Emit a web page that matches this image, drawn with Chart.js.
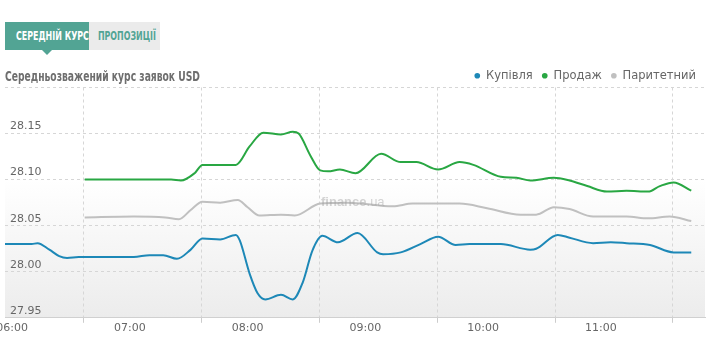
<!DOCTYPE html>
<html><head><meta charset="utf-8">
<script src="https://cdn.jsdelivr.net/npm/chart.js@4.4.1/dist/chart.umd.min.js"></script>
<style>
html,body{margin:0;padding:0;background:#fff;width:720px;height:358px;overflow:hidden;}
#wrap{position:relative;width:720px;height:358px;}
#c{position:absolute;left:0;top:0;}
.tab{position:absolute;top:22px;height:28px;line-height:28px;font-family:"DejaVu Sans Condensed","DejaVu Sans",sans-serif;font-weight:bold;font-size:11.5px;text-align:center;white-space:nowrap;overflow:visible;}
.tab span,#title span{display:inline-block;white-space:nowrap;}
.tab span{transform-origin:center center;}
#title span{transform-origin:left center;}
#t1{left:5px;width:84px;background:#52a494;color:#fff;}
#t2{left:89px;width:71px;background:#ebebeb;color:#52a494;}
#arrow{position:absolute;left:42px;top:50px;width:0;height:0;border-left:5px solid transparent;border-right:5px solid transparent;border-top:5px solid #52a494;}
#title{position:absolute;left:5px;top:67px;font-family:"DejaVu Sans Condensed","DejaVu Sans",sans-serif;font-weight:bold;font-size:13.5px;line-height:18px;color:#6e6e6e;white-space:nowrap;}
#wm{position:absolute;left:321px;top:194px;font-family:"Liberation Sans",sans-serif;font-size:13px;line-height:16px;color:rgba(160,160,160,0.45);pointer-events:none;}
</style>
</head><body>
<div id="wrap">
<canvas id="c" width="720" height="358"></canvas>
<div class="tab" id="t1"><span data-w="73">СЕРЕДНІЙ КУРС</span></div>
<div class="tab" id="t2"><span data-w="58">ПРОПОЗИЦІЇ</span></div>
<div id="arrow"></div>
<div id="title"><span data-w="195">Середньозважений курс заявок USD</span></div>
<div id="wm"><b>finance</b>.ua</div>
</div>
<script>
// fit condensed header texts to their widths
document.querySelectorAll('span[data-w]').forEach(el => {
  const w = el.getBoundingClientRect().width;
  const t = parseFloat(el.getAttribute('data-w'));
  if (w > 0) el.style.transform = 'scaleX(' + (t / w) + ')';
});

// x values are minutes after 06:00
const xTickMinutes = [0, 60, 120, 180, 240, 300];
const xTickLabels = ['06:00', '07:00', '08:00', '09:00', '10:00', '11:00'];
const gridMinutes = [36.6, 96.6, 156.6, 216.6, 276.6, 336.6];
const yTickValues = [27.95, 28.00, 28.05, 28.10, 28.15, 28.20];
const yTickLabels = ['27.95', '28.00', '28.05', '28.10', '28.15', ''];
const seriesNames = ['Купівля', 'Продаж', 'Паритетний'];

const buyMinutes = [-4, 10, 13, 19, 24, 28, 34, 62, 70, 77, 84, 91, 97, 106, 114, 116, 121, 125, 129, 137, 143, 148, 153, 158, 166, 176, 186, 189, 198, 208, 217, 226, 233, 249, 264, 267, 278, 284, 296, 305, 313, 325, 337, 346];
const buyValues = [28.030, 28.030, 28.031, 28.024, 28.017, 28.015, 28.016, 28.016, 28.018, 28.018, 28.014, 28.024, 28.036, 28.035, 28.040, 28.034, 27.998, 27.977, 27.970, 27.975, 27.970, 27.988, 28.023, 28.039, 28.032, 28.042, 28.021, 28.019, 28.021, 28.030, 28.038, 28.029, 28.030, 28.030, 28.024, 28.025, 28.040, 28.037, 28.031, 28.032, 28.031, 28.029, 28.021, 28.021];

const sellMinutes = [37, 81, 86, 93, 97, 102, 114, 121, 128, 137, 143, 146, 152, 157, 161, 167, 175, 188, 198, 206, 217, 228, 235, 249, 257, 264, 276, 284, 293, 303, 313, 324, 330, 337, 346];
const sellValues = [28.100, 28.100, 28.099, 28.107, 28.116, 28.116, 28.116, 28.136, 28.151, 28.149, 28.152, 28.150, 28.126, 28.110, 28.109, 28.111, 28.107, 28.128, 28.119, 28.119, 28.111, 28.119, 28.116, 28.103, 28.102, 28.099, 28.102, 28.099, 28.093, 28.087, 28.088, 28.087, 28.093, 28.097, 28.088];

const parMinutes = [37, 62, 78, 85, 91, 97, 106, 115, 120, 126, 137, 144, 157, 171, 194, 204, 228, 242, 259, 267, 276, 284, 296, 313, 324, 335, 346];
const parValues = [28.059, 28.060, 28.059, 28.057, 28.067, 28.076, 28.075, 28.078, 28.070, 28.061, 28.062, 28.061, 28.074, 28.075, 28.071, 28.074, 28.074, 28.069, 28.062, 28.062, 28.070, 28.068, 28.060, 28.060, 28.058, 28.060, 28.055];

const colors = ['#1d88b7', '#29a743', '#c0c0c0'];
const X_MIN = -3.6, X_MAX = 353;

const toPts = (xs, ys) => xs.map((x, i) => ({x: x, y: ys[i]}));

const plotBg = {
  id: 'plotBg',
  beforeDraw(chart) {
    const {ctx, chartArea: a} = chart;
    const g = ctx.createLinearGradient(0, a.top, 0, a.bottom);
    g.addColorStop(0, '#ffffff');
    g.addColorStop(0.4, '#ffffff');
    g.addColorStop(1, '#ececec');
    ctx.save();
    ctx.fillStyle = g;
    ctx.fillRect(a.left, a.top, a.right - a.left, a.bottom - a.top);
    ctx.restore();
  }
};
const legendTrim = {
  id: 'legendTrim',
  beforeLayout(chart) {
    const lg = chart.legend;
    if (lg && !lg._trimmed) {
      const f = lg.fit;
      lg.fit = function () { f.call(this); this.height -= 4; };
      lg._trimmed = true;
    }
  }
};

const mkDs = (i, xs, ys) => ({
  label: seriesNames[i],
  data: toPts(xs, ys),
  borderColor: colors[i],
  backgroundColor: colors[i],
  borderWidth: 2,
  pointRadius: 0,
  cubicInterpolationMode: 'monotone',
  tension: 0.4,
  xAxisID: 'x',
  yAxisID: 'y'
});

new Chart(document.getElementById('c'), {
  type: 'line',
  data: {
    datasets: [
      mkDs(2, parMinutes, parValues),
      mkDs(1, sellMinutes, sellValues),
      mkDs(0, buyMinutes, buyValues)
    ]
  },
  options: {
    responsive: false,
    devicePixelRatio: 1,
    animation: false,
    layout: {padding: {top: 61, left: 5, right: 15, bottom: 19}},
    plugins: {
      tooltip: {enabled: false},
      legend: {
        position: 'top',
        align: 'end',
        reverse: true,
        labels: {
          usePointStyle: true,
          pointStyle: 'circle',
          boxWidth: 6,
          boxHeight: 4,
          padding: 9,
          color: '#666',
          font: {family: 'DejaVu Sans', size: 11.5},
          generateLabels: (chart) => Chart.defaults.plugins.legend.labels.generateLabels(chart).map(l => Object.assign(l, {lineWidth: 0}))
        }
      }
    },
    scales: {
      xg: {
        type: 'linear', position: 'bottom', weight: 0,
        min: X_MIN, max: X_MAX,
        afterBuildTicks: s => { s.ticks = gridMinutes.map(v => ({value: v})); },
        afterFit: s => { s.height = 0; s.paddingLeft = 0; s.paddingRight = 0; },
        ticks: {display: false},
        grid: {color: '#d6d6d6', drawTicks: true, tickLength: 5, tickColor: '#cccccc'},
        border: {display: true, color: '#d0d0d0', width: 1, dash: [3, 3]}
      },
      x: {
        type: 'linear', position: 'bottom', weight: 1,
        min: X_MIN, max: X_MAX,
        afterBuildTicks: s => { s.ticks = xTickMinutes.map(v => ({value: v})); },
        afterFit: s => { s.paddingLeft = 0; s.paddingRight = 0; },
        grid: {display: false, drawTicks: false},
        border: {display: false},
        ticks: {
          autoSkip: false, maxRotation: 0, padding: 4,
          color: '#666', font: {family: 'DejaVu Sans', size: 11},
          callback: (v, i) => xTickLabels[i]
        }
      },
      y: {
        type: 'linear', position: 'left',
        min: 27.95, max: 28.20,
        afterBuildTicks: s => { s.ticks = yTickValues.map(v => ({value: v})); },
        afterFit: s => { s.width = 0; s.paddingTop = 0; s.paddingBottom = 0; },
        grid: {color: '#d6d6d6', drawTicks: false},
        border: {display: false, dash: [3, 3]},
        ticks: {
          mirror: true, padding: 5, labelOffset: -7,
          color: '#666', font: {family: 'DejaVu Sans', size: 11},
          callback: (v, i) => yTickLabels[i]
        }
      }
    }
  },
  plugins: [plotBg, legendTrim]
});
</script>
</body></html>
